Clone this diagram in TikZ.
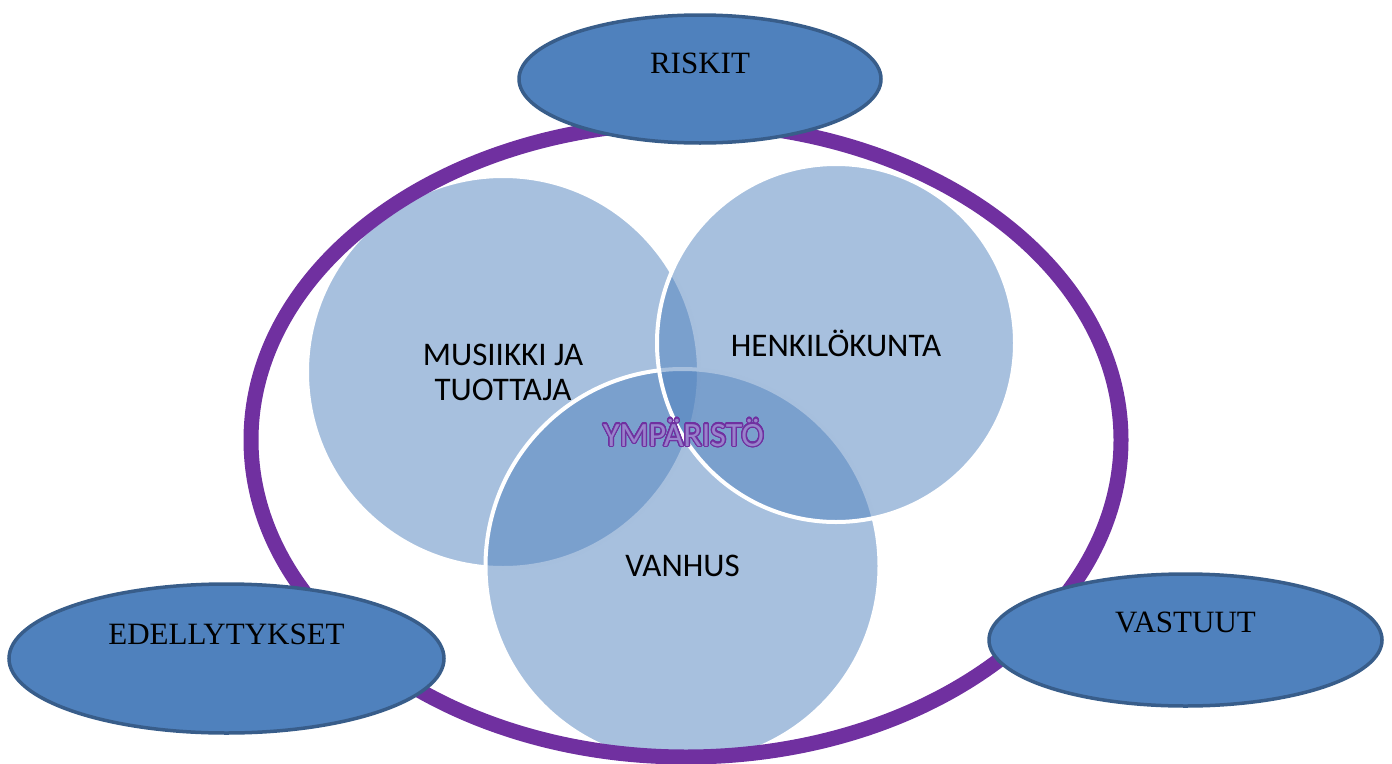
\documentclass[tikz,border=0pt]{standalone}
\usepackage{fontspec}
\setmainfont{Liberation Serif}
\newfontfamily\calibfont{Carlito}
\usepackage[copies]{contour}
\usepackage{tikz}
\usetikzlibrary{shapes.geometric}

\definecolor{vennblue}{HTML}{4F81BD}
\definecolor{capsline}{HTML}{385D8A}
\definecolor{ringpurple}{HTML}{7030A0}
\definecolor{ymplight}{HTML}{9883CC}
\contourlength{1.3pt}
\contournumber{24}

\begin{document}
\begin{tikzpicture}[
    x=1pt, y=-1pt,
    venn/.style={circle, draw=white, line width=4pt, fill=vennblue, fill opacity=0.5, text opacity=1, inner sep=0pt, align=center, font=\calibfont\fontsize{33}{35}\selectfont},
    capsule/.style={ellipse, draw=capsline, line width=3.5pt, fill=vennblue, inner sep=0pt, text height=0pt, font=\fontsize{31}{33}\selectfont},
    ring/.style={draw=ringpurple, line width=15pt},
    ymptext/.style={text=ymplight, inner sep=0pt, font=\calibfont\fontsize{34}{36}\selectfont},
]
\useasboundingbox (0,0) rectangle (1392,763);

% ---- Venn-ympyrät ----
\node[venn, minimum size=392] (musiikki) at (503,372) {MUSIIKKI JA\\TUOTTAJA};
\node[venn, minimum size=394] (vanhus) at (682.5,566) {VANHUS};
\node[venn, minimum size=358] (henkilokunta) at (836,343) {HENKILÖKUNTA};

% ---- Keskusta ----
\node[ymptext, anchor=base] (ymparisto) at (683.5,446) {\contour{ringpurple}{YMPÄRISTÖ}};

% ---- Ympäröivä rengas ----
\draw[ring] (686,440) ellipse [x radius=435, y radius=317];

% ---- Reunan ellipsit ----
\node[capsule, minimum width=362, minimum height=128, text depth=12pt] (riskit) at (700,79) {RISKIT};
\node[capsule, minimum width=435, minimum height=149, text depth=29pt] (edellytykset) at (226.5,658.5) {EDELLYTYKSET};
\node[capsule, minimum width=393, minimum height=132, text depth=16pt] (vastuut) at (1185.5,640) {VASTUUT};

\end{tikzpicture}
\end{document}
